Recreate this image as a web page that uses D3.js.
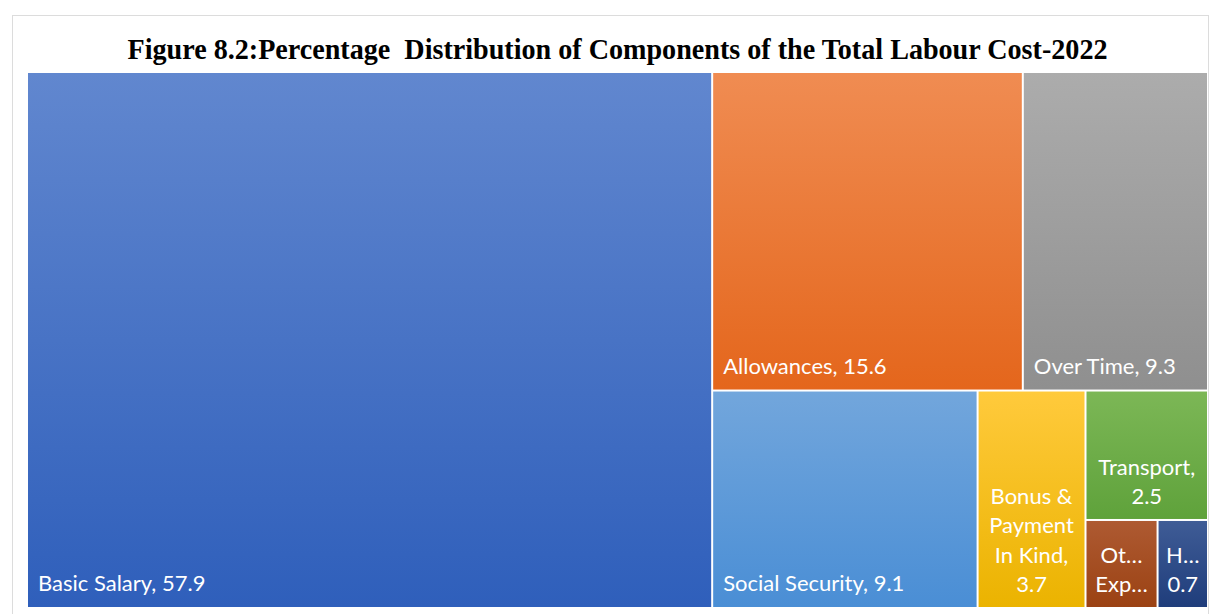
<!DOCTYPE html>
<html>
<head>
<meta charset="utf-8">
<script src="https://cdn.jsdelivr.net/npm/d3@7"></script>
<style>
  body { margin: 0; background: #fff; }
  .tile-label { font-family: Lato, "Open Sans", sans-serif; fill: #fff; }
</style>
</head>
<body>
<div class="chart"></div>
<script>
const width = 1211;
const height = 614;
const margin = {top: 73, right: 4, bottom: 7, left: 28};
const titleText = 'Figure 8.2:Percentage  Distribution of Components of the Total Labour Cost-2022';

// data (percent of total labour cost)
const categories = ['Basic Salary', 'Allowances', 'Over Time', 'Social Security',
  'Bonus & Payment In Kind', 'Transport', 'Other Expenses', 'Housing'];
const values = [57.9, 15.6, 9.3, 9.1, 3.7, 2.5, 1.0, 0.7];
const topColors = ['#6187cf', '#f08c52', '#acacac', '#72a6dc', '#ffca3c', '#7cb756', '#ae5a32', '#3f5c96'];
const bottomColors = ['#2f5fbb', '#e4661c', '#8f8f8f', '#4a8ed5', '#ebb300', '#5fa23b', '#9b4213', '#1f3d7b'];

// how Excel grouped the tiles (alternating columns / rows)
const layoutTree = ['Basic Salary',
  [['Allowances', 'Over Time'],
   ['Social Security', 'Bonus & Payment In Kind', ['Transport', ['Other Expenses', 'Housing']]]]];

const toNode = n => Array.isArray(n)
  ? {children: n.map(toNode)}
  : {name: n, value: values[categories.indexOf(n)], idx: categories.indexOf(n)};

const root = d3.hierarchy({children: layoutTree.map(toNode)})
  .sum(d => d.value || 0);

d3.treemap()
  .tile(d3.treemapSliceDice)
  .size([width - margin.left - margin.right, height - margin.top - margin.bottom])
  .paddingInner(2)
  (root);

const svg = d3.select('.chart').append('svg')
  .attr('width', width)
  .attr('height', height);

// faint frame of the chart area
svg.append('rect')
  .attr('x', 12.5).attr('y', 15.5)
  .attr('width', 1196).attr('height', 610)
  .attr('fill', 'none')
  .attr('stroke', '#dcdcdc');

svg.append('text')
  .attr('x', width / 2 + 12)
  .attr('y', 59)
  .attr('text-anchor', 'middle')
  .attr('textLength', 980)
  .attr('lengthAdjust', 'spacingAndGlyphs')
  .style('white-space', 'pre')
  .style('font-family', '"Liberation Serif", "Times New Roman", serif')
  .style('font-weight', 'bold')
  .style('font-size', '30px')
  .text(titleText);

const defs = svg.append('defs');
categories.forEach((c, i) => {
  const g = defs.append('linearGradient')
    .attr('id', 'grad' + i)
    .attr('x1', 0).attr('y1', 0).attr('x2', 0).attr('y2', 1);
  g.append('stop').attr('offset', '0%').attr('stop-color', topColors[i]);
  g.append('stop').attr('offset', '100%').attr('stop-color', bottomColors[i]);
});

const plot = svg.append('g')
  .attr('transform', `translate(${margin.left},${margin.top})`);

const leaves = root.leaves();

const tile = plot.selectAll('g.tile')
  .data(leaves)
  .enter().append('g')
  .attr('class', 'tile')
  .attr('transform', d => `translate(${d.x0},${d.y0})`);

tile.append('rect')
  .attr('width', d => d.x1 - d.x0)
  .attr('height', d => d.y1 - d.y0)
  .attr('fill', d => `url(#grad${d.data.idx})`);

// text measuring helper
const fontSize = 22;
const lineH = 29.3;
const pad = 10;
const probe = svg.append('text').attr('class', 'tile-label').style('font-size', fontSize + 'px');
const measure = s => probe.text(s).node().getComputedTextLength();

const ellipsize = (s, maxW) => {
  if (measure(s) <= maxW) return s;
  let t = s;
  while (t.length > 1 && measure(t + '…') > maxW) t = t.slice(0, -1);
  return t + '…';
};

tile.each(function(d) {
  const w = d.x1 - d.x0;
  const h = d.y1 - d.y0;
  const label = `${d.data.name}, ${d.data.value.toFixed(1)}`;
  const maxW = w - 2 * pad;
  const g = d3.select(this);
  if (measure(label) <= maxW) {
    g.append('text')
      .attr('class', 'tile-label')
      .attr('x', pad)
      .attr('y', h - 16)
      .style('font-size', fontSize + 'px')
      .text(label);
    return;
  }
  // wrap word by word, centred, bottom aligned
  const words = label.split(' ');
  const lines = [];
  let cur = '';
  words.forEach(wd => {
    const test = cur ? cur + ' ' + wd : wd;
    if (cur && measure(test) > maxW) { lines.push(cur); cur = wd; }
    else cur = test;
  });
  if (cur) lines.push(cur);
  const maxLines = Math.max(1, Math.floor((h - 20) / lineH));
  const shown = lines.slice(0, maxLines).map(l => ellipsize(l, w - 16));
  const t = g.append('text')
    .attr('class', 'tile-label')
    .attr('text-anchor', 'middle')
    .style('font-size', fontSize + 'px');
  shown.forEach((l, i) => {
    t.append('tspan')
      .attr('x', w / 2)
      .attr('y', h - 15 - (shown.length - 1 - i) * lineH)
      .text(l);
  });
});

probe.remove();
</script>
</body>
</html>
